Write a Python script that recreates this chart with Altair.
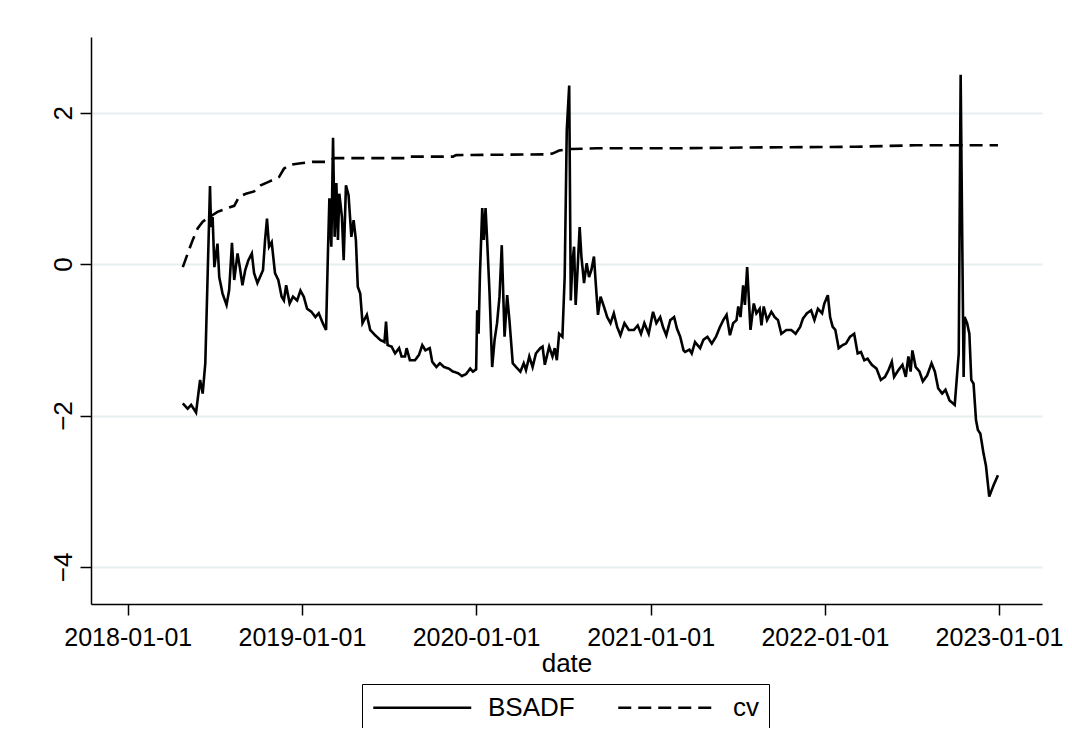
import altair as alt
import pandas as pd

FONT = "Liberation Sans"

# BSADF statistic: (decimal year, value)
bsadf_year = [
    2018.316, 2018.344, 2018.364, 2018.392, 2018.415, 2018.430, 2018.445, 2018.472, 2018.478, 2018.487,
    2018.497, 2018.515, 2018.525, 2018.544, 2018.567, 2018.582, 2018.598, 2018.611, 2018.630, 2018.643,
    2018.658, 2018.674, 2018.692, 2018.712, 2018.725, 2018.744, 2018.776, 2018.788, 2018.799, 2018.811,
    2018.826, 2018.845, 2018.864, 2018.883, 2018.896, 2018.909, 2018.929, 2018.948, 2018.972, 2018.991,
    2019.010, 2019.029, 2019.054, 2019.077, 2019.096, 2019.119, 2019.138, 2019.149, 2019.157, 2019.168,
    2019.178, 2019.187, 2019.197, 2019.206, 2019.214, 2019.229, 2019.239, 2019.252, 2019.267, 2019.283,
    2019.296, 2019.309, 2019.320, 2019.334, 2019.347, 2019.372, 2019.391, 2019.420, 2019.448, 2019.473,
    2019.482, 2019.491, 2019.514, 2019.534, 2019.557, 2019.571, 2019.591, 2019.600, 2019.619, 2019.648,
    2019.671, 2019.690, 2019.708, 2019.733, 2019.747, 2019.771, 2019.791, 2019.815, 2019.842, 2019.866,
    2019.895, 2019.918, 2019.942, 2019.965, 2019.981, 2019.999, 2020.005, 2020.013, 2020.021, 2020.034,
    2020.043, 2020.053, 2020.062, 2020.076, 2020.091, 2020.105, 2020.119, 2020.133, 2020.146, 2020.162,
    2020.177, 2020.190, 2020.209, 2020.228, 2020.253, 2020.272, 2020.285, 2020.304, 2020.323, 2020.342,
    2020.367, 2020.380, 2020.393, 2020.418, 2020.437, 2020.450, 2020.462, 2020.475, 2020.494, 2020.507,
    2020.519, 2020.533, 2020.542, 2020.551, 2020.561, 2020.570, 2020.580, 2020.593, 2020.603, 2020.618,
    2020.633, 2020.647, 2020.660, 2020.675, 2020.684, 2020.698, 2020.713, 2020.732, 2020.751, 2020.770,
    2020.789, 2020.808, 2020.827, 2020.850, 2020.875, 2020.904, 2020.926, 2020.945, 2020.964, 2020.989,
    2021.014, 2021.033, 2021.055, 2021.071, 2021.090, 2021.113, 2021.135, 2021.151, 2021.170, 2021.189,
    2021.198, 2021.223, 2021.236, 2021.255, 2021.284, 2021.303, 2021.326, 2021.351, 2021.375, 2021.398,
    2021.417, 2021.436, 2021.455, 2021.474, 2021.493, 2021.503, 2021.516, 2021.531, 2021.541, 2021.554,
    2021.566, 2021.573, 2021.592, 2021.607, 2021.626, 2021.636, 2021.649, 2021.668, 2021.693, 2021.712,
    2021.731, 2021.750, 2021.779, 2021.807, 2021.832, 2021.858, 2021.874, 2021.897, 2021.921, 2021.940,
    2021.960, 2021.984, 2021.997, 2022.017, 2022.030, 2022.045, 2022.060, 2022.079, 2022.102, 2022.121,
    2022.144, 2022.168, 2022.188, 2022.207, 2022.226, 2022.245, 2022.269, 2022.296, 2022.321, 2022.345,
    2022.365, 2022.384, 2022.397, 2022.422, 2022.445, 2022.464, 2022.479, 2022.492, 2022.502, 2022.521,
    2022.543, 2022.562, 2022.587, 2022.612, 2022.631, 2022.650, 2022.673, 2022.692, 2022.715, 2022.745,
    2022.768, 2022.779, 2022.787, 2022.796, 2022.802, 2022.816, 2022.829, 2022.840, 2022.853, 2022.867,
    2022.878, 2022.892, 2022.910, 2022.924, 2022.943, 2022.968, 2022.993,
]
bsadf_value = [
    -1.84, -1.91, -1.86, -1.96, -1.53, -1.71, -1.31, 1.03, 0.49, 0.62,
    -0.04, 0.27, -0.17, -0.39, -0.54, -0.34, 0.28, -0.21, 0.14, -0.04,
    -0.28, -0.08, 0.05, 0.14, -0.12, -0.25, -0.08, 0.32, 0.60, 0.23,
    0.29, -0.12, -0.21, -0.43, -0.48, -0.28, -0.52, -0.43, -0.48, -0.35,
    -0.43, -0.59, -0.63, -0.70, -0.65, -0.78, -0.87, 0.18, 0.87, 0.23,
    1.67, 0.36, 1.07, 0.32, 0.93, 0.62, 0.05, 1.04, 0.91, 0.36,
    0.58, 0.32, -0.30, -0.39, -0.78, -0.67, -0.87, -0.94, -1.00, -1.03,
    -0.76, -1.07, -1.09, -1.18, -1.11, -1.22, -1.22, -1.11, -1.27, -1.27,
    -1.20, -1.07, -1.14, -1.11, -1.29, -1.36, -1.31, -1.36, -1.38, -1.42,
    -1.44, -1.48, -1.45, -1.38, -1.42, -1.39, -0.61, -0.92, -0.12, 0.74,
    0.32, 0.74, 0.32, -0.39, -1.36, -1.00, -0.78, -0.43, 0.25, -0.96,
    -0.41, -0.74, -1.31, -1.36, -1.42, -1.31, -1.40, -1.22, -1.36, -1.18,
    -1.11, -1.09, -1.33, -1.09, -1.22, -1.11, -1.27, -0.92, -0.96, -0.17,
    1.77, 2.36, -0.48, 0.01, 0.23, -0.54, -0.12, 0.49, 0.10, -0.25,
    0.01, -0.17, -0.08, 0.10, -0.21, -0.67, -0.43, -0.56, -0.70, -0.78,
    -0.65, -0.83, -0.94, -0.78, -0.87, -0.87, -0.81, -0.92, -0.78, -0.92,
    -0.63, -0.78, -0.70, -0.83, -0.94, -0.74, -0.70, -0.85, -0.96, -1.14,
    -1.16, -1.13, -1.18, -1.03, -1.11, -1.00, -0.96, -1.05, -0.96, -0.83,
    -0.74, -0.67, -0.94, -0.78, -0.74, -0.56, -0.70, -0.28, -0.54, -0.04,
    -0.56, -0.87, -0.52, -0.65, -0.59, -0.81, -0.56, -0.74, -0.63, -0.70,
    -0.74, -0.92, -0.87, -0.87, -0.92, -0.83, -0.72, -0.65, -0.61, -0.74,
    -0.59, -0.65, -0.52, -0.41, -0.70, -0.83, -0.87, -1.11, -1.07, -1.05,
    -0.96, -0.92, -1.18, -1.16, -1.27, -1.25, -1.33, -1.38, -1.53, -1.49,
    -1.40, -1.29, -1.49, -1.40, -1.33, -1.49, -1.22, -1.42, -1.14, -1.36,
    -1.42, -1.55, -1.47, -1.31, -1.42, -1.64, -1.71, -1.66, -1.80, -1.86,
    -1.18, 2.50, 0.58, -1.49, -0.70, -0.78, -0.92, -1.53, -1.58, -2.06,
    -2.19, -2.24, -2.50, -2.66, -3.07, -2.92, -2.79,
]

# critical value series: (decimal year, value)
cv_year = [
    2018.316, 2018.344, 2018.373, 2018.401, 2018.430, 2018.468, 2018.515, 2018.573, 2018.611, 2018.639,
    2018.678, 2018.725, 2018.763, 2018.811, 2018.868, 2018.896, 2018.925, 2018.982, 2019.058, 2019.134,
    2019.191, 2019.610, 2019.621, 2019.866, 2019.884, 2020.409, 2020.437, 2020.475, 2020.542, 2020.694,
    2021.151, 2021.551, 2022.178, 2022.521, 2022.993,
]
cv_value = [
    -0.04, 0.14, 0.32, 0.47, 0.56, 0.62, 0.69, 0.74, 0.77, 0.89,
    0.93, 0.96, 1.04, 1.09, 1.15, 1.26, 1.31, 1.33, 1.35, 1.35,
    1.40, 1.40, 1.42, 1.42, 1.44, 1.45, 1.46, 1.50, 1.52, 1.53,
    1.53, 1.54, 1.55, 1.57, 1.57,
]

series_names = ["BSADF", "cv"]
tick_years = [2018, 2019, 2020, 2021, 2022, 2023]
y_ticks = [-4, -2, 0, 2]


def to_dates(years):
    base = pd.Timestamp("2018-01-01")
    return [base + pd.to_timedelta((y - 2018) * 365.25, unit="D") for y in years]


df = pd.concat(
    [
        pd.DataFrame({"date": to_dates(bsadf_year), "value": bsadf_value, "series": series_names[0]}),
        pd.DataFrame({"date": to_dates(cv_year), "value": cv_value, "series": series_names[1]}),
    ],
    ignore_index=True,
)

# legend symbol: a horizontal stroke starting at the symbol's left edge
legend = alt.Legend(
    title=None,
    orient="none",
    legendX=271,
    legendY=647,
    direction="horizontal",
    symbolType="M-1,0H7",
    symbolSize=600,
    symbolStrokeWidth=2.4,
    symbolStrokeColor="black",
    symbolFillColor="transparent",
    labelFont=FONT,
    labelFontSize=26,
    labelColor="black",
    labelOffset=89,
    labelLimit=300,
    columnPadding=38,
    padding=10,
    strokeColor="black",
    fillColor="white",
    cornerRadius=0,
)

chart = (
    alt.Chart(df)
    .mark_line(strokeWidth=2.6, clip=True)
    .encode(
        x=alt.X(
            "date:T",
            scale=alt.Scale(
                domain=[
                    alt.DateTime(year=2017, month=10, date=16),
                    alt.DateTime(year=2023, month=4, date=1),
                ]
            ),
            axis=alt.Axis(
                values=[alt.DateTime(year=y, month=1, date=1) for y in tick_years],
                format="%Y-%m-%d",
                title="date",
                grid=False,
                labelOverlap=False,
                labelFlush=False,
                labelFont=FONT,
                labelFontSize=25,
                labelColor="black",
                labelPadding=10,
                titleFont=FONT,
                titleFontSize=26,
                titleFontWeight="normal",
                titleColor="black",
                titlePadding=0,
                tickSize=11,
                tickWidth=1.5,
                tickColor="black",
                domainColor="black",
                domainWidth=1.5,
            ),
        ),
        y=alt.Y(
            "value:Q",
            scale=alt.Scale(domain=[-4.49, 3.0], nice=False, zero=False),
            axis=alt.Axis(
                values=y_ticks,
                format="d",
                title=None,
                labelAngle=270,
                labelAlign="center",
                labelBaseline="bottom",
                labelFont=FONT,
                labelFontSize=26,
                labelColor="black",
                labelPadding=4,
                tickSize=11,
                tickWidth=1.5,
                tickColor="black",
                domainColor="black",
                domainWidth=1.5,
                grid=True,
                gridColor="#e6eef0",
                gridWidth=2,
            ),
        ),
        color=alt.Color(
            "series:N",
            scale=alt.Scale(domain=series_names, range=["black", "black"]),
            legend=legend,
        ),
        strokeDash=alt.StrokeDash(
            "series:N",
            scale=alt.Scale(domain=series_names, range=[[1, 0], [13, 7]]),
            legend=legend,
        ),
    )
    .properties(
        width=951,
        height=567,
        padding={"left": 83, "top": 29, "right": 22, "bottom": 124},
        autosize=alt.AutoSizeParams(type="none"),
        background="white",
    )
    .configure_view(stroke="transparent")
)

chart.save("out.html", embed_options={"renderer": "svg", "actions": False})
